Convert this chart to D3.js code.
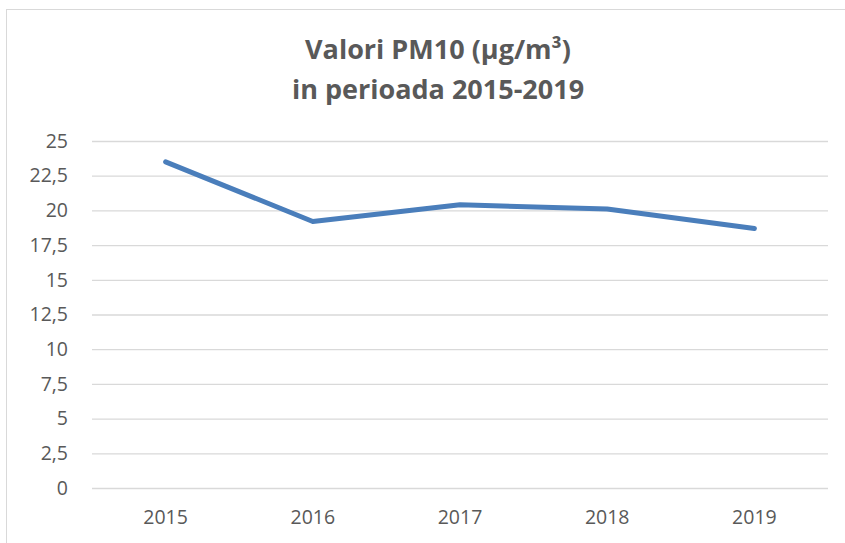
<!DOCTYPE html>
<html><head><meta charset="utf-8">
<script src="https://cdn.jsdelivr.net/npm/d3@7"></script>
<style>body{margin:0;background:#fff}svg{display:block}</style>
</head><body>
<script>
const years = ["2015","2016","2017","2018","2019"];
const values = [23.5, 19.2, 20.4, 20.1, 18.7];
const yTicks = [0,2.5,5,7.5,10,12.5,15,17.5,20,22.5,25];
const titleLines = ["Valori PM10 (µg/m³)", "in perioada 2015-2019"];

const W=845,H=543;
const svg=d3.select("body").append("svg").attr("width",W).attr("height",H);
svg.append("rect").attr("x",6.5).attr("y",9.5).attr("width",W).attr("height",H).attr("fill","#fff").attr("stroke","#d9d9d9").attr("stroke-width",1);

const font="'Open Sans', 'Noto Sans', sans-serif";
const x=d3.scaleBand().domain(years).range([92,828]);
const y=d3.scaleLinear().domain([0,25]).range([488,141]);

svg.selectAll("text.title").data(titleLines).enter().append("text")
 .attr("x",438).attr("y",(d,i)=>59+i*40).attr("text-anchor","middle")
 .attr("font-family",font).attr("font-weight","bold").attr("font-size",27)
 .attr("fill","#595959").text(d=>d);

const fmt=d=>String(d).replace(".",",");
const gy=svg.append("g").attr("transform","translate(92,0)")
 .call(d3.axisLeft(y).tickValues(yTicks).tickFormat(fmt).tickSize(-736).tickPadding(24));
gy.select(".domain").remove();
gy.selectAll("line").attr("stroke","#d9d9d9").attr("stroke-width",1.3);
gy.selectAll("text").attr("font-family",font).attr("font-size",19.5).attr("fill","#595959");

const gx=svg.append("g").attr("transform","translate(0,488)")
 .call(d3.axisBottom(x).tickSize(0).tickPadding(22));
gx.select(".domain").remove();
gx.selectAll("text").attr("font-family",font).attr("font-size",19.5).attr("fill","#595959");

const line=d3.line().x((d,i)=>x(years[i])+x.bandwidth()/2).y(d=>y(d));
svg.append("path").datum(values).attr("d",line).attr("fill","none")
 .attr("stroke","#4a7ebb").attr("stroke-width",5).attr("stroke-linecap","round").attr("stroke-linejoin","round");
</script>
</body></html>
